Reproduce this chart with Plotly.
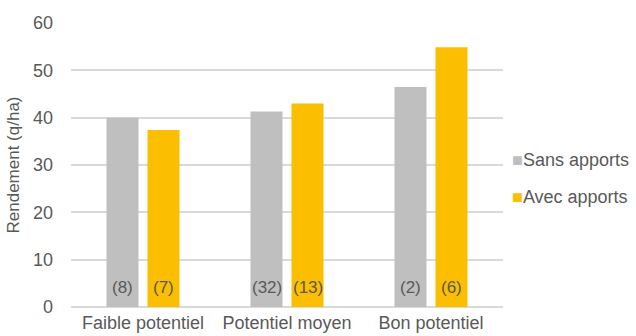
import plotly.graph_objects as go

categories = ["Faible potentiel", "Potentiel moyen", "Bon potentiel"]
sans_apports = [40.0, 41.3, 46.5]
avec_apports = [37.4, 43.0, 54.9]
n_sans = ["(8)", "(32)", "(2)"]
n_avec = ["(7)", "(13)", "(6)"]
y_ticks = [0, 10, 20, 30, 40, 50, 60]

GREY = "#BFBFBF"
GOLD = "#FBBE00"
TEXT = "#595959"
FONT = "Liberation Sans, Arial, sans-serif"

series = [("Sans apports", sans_apports, n_sans, GREY, -20.5),
          ("Avec apports", avec_apports, n_avec, GOLD, 20.5)]

fig = go.Figure()
for name, values, counts, color, shift in series:
    fig.add_trace(go.Bar(name=name, x=categories, y=values,
                         marker=dict(color=color, line=dict(width=0))))
    # sample counts written near the base of each bar
    for cat, txt in zip(categories, counts):
        fig.add_annotation(x=cat, y=0, text=txt, showarrow=False,
                           xshift=shift, yshift=20, yanchor="middle",
                           font=dict(family=FONT, size=17, color=TEXT))

# compact legend: coloured square right next to the label
for i, (name, _, _, color, _) in enumerate(series):
    fig.add_annotation(xref="paper", yref="paper", x=1.016, xanchor="left",
                       y=0.518 - i * 0.13, yanchor="middle", showarrow=False,
                       text=f"<span style='color:{color}'>■</span>{name}",
                       font=dict(family=FONT, size=18, color=TEXT))

fig.update_layout(
    width=636, height=336,
    margin=dict(l=71, r=133, t=23, b=29, autoexpand=False),
    paper_bgcolor="white", plot_bgcolor="white",
    barmode="group", bargap=0.43, bargroupgap=0.22,
    font=dict(family=FONT, size=18, color=TEXT),
    showlegend=False,
)
fig.update_xaxes(showline=False, ticks="", showgrid=False,
                 tickfont=dict(family=FONT, size=18, color=TEXT),
                 ticklabelstandoff=3)
fig.update_yaxes(range=[0, 60], tickvals=y_ticks, showgrid=True,
                 gridcolor="#D9D9D9", gridwidth=1.5, zeroline=True,
                 zerolinecolor="#D9D9D9", zerolinewidth=1.5, showline=False,
                 ticks="", tickfont=dict(family=FONT, size=18, color=TEXT),
                 ticklabelstandoff=17,
                 title=dict(text="Rendement (q/ha)", standoff=9,
                            font=dict(family=FONT, size=17, color=TEXT)))

fig.write_html("out.html")
